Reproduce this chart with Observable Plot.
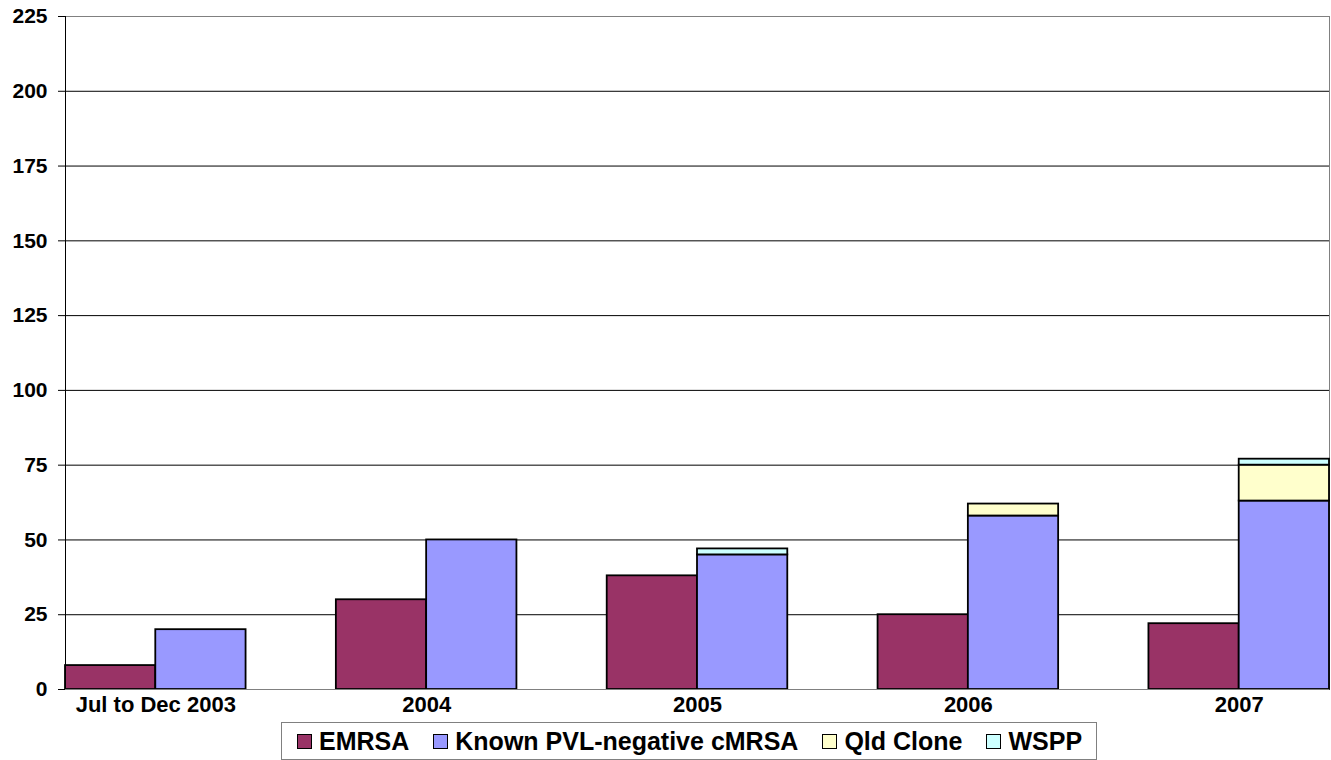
<!DOCTYPE html>
<html>
<head>
<meta charset="utf-8">
<script src="https://cdn.jsdelivr.net/npm/d3@7"></script>
<script src="https://cdn.jsdelivr.net/npm/@observablehq/plot@0.6"></script>
<style>
  html, body { margin: 0; padding: 0; background: #fff; }
  body { width: 1331px; height: 760px; font-family: "Liberation Sans", Arial, sans-serif; position: relative; overflow: hidden; }
  #legend {
    position: absolute; left: 281px; top: 722px; height: 36px;
    padding-left: 15px; padding-right: 14px;
    border: 1px solid #808080;
    display: inline-flex; align-items: center; gap: 24px;
    font-weight: bold; font-size: 25px; color: #000; white-space: nowrap;
  }
  .item { display: flex; align-items: center; }
  .sw { width: 13px; height: 13px; border: 1px solid #000; margin-right: 7px; }
</style>
</head>
<body>
<div id="chart"></div>
<div id="legend"></div>
<script>
const categories = ["Jul to Dec 2003", "2004", "2005", "2006", "2007"];
const series = ["EMRSA", "Known PVL-negative cMRSA", "Qld Clone", "WSPP"];
const colors = ["#993366", "#9999FF", "#FFFFCC", "#CCFFFF"];
const emrsa  = [8, 30, 38, 25, 22];
const pvlNeg = [20, 50, 45, 58, 63];
const qld    = [0, 0, 0, 4, 12];
const wspp   = [0, 0, 2, 0, 2];
const yTicks = [0, 25, 50, 75, 100, 125, 150, 175, 200, 225];

// Each category occupies three units: EMRSA column, cMRSA stack column, gap
const rows = [];
categories.forEach((c, i) => {
  rows.push({cat: c, x1: 3 * i, x2: 3 * i + 1, series: series[0], value: emrsa[i]});
  rows.push({cat: c, x1: 3 * i + 1, x2: 3 * i + 2, series: series[1], value: pvlNeg[i]});
  rows.push({cat: c, x1: 3 * i + 1, x2: 3 * i + 2, series: series[2], value: qld[i]});
  rows.push({cat: c, x1: 3 * i + 1, x2: 3 * i + 2, series: series[3], value: wspp[i]});
});
const data = rows.filter(d => d.value > 0);

const chart = Plot.plot({
  width: 1331,
  height: 718,
  marginLeft: 65,
  marginRight: 2,
  marginTop: 16,
  marginBottom: 29,
  style: {fontFamily: "'Liberation Sans', Arial, sans-serif", fontWeight: "bold", fontSize: "21px", color: "#000", background: "#fff"},
  x: {type: "linear", domain: [0, 14], axis: null},
  y: {domain: [0, 225], axis: null},
  color: {domain: series, range: colors},
  marks: [
    Plot.ruleY(yTicks.filter(t => t > 0 && t < 225), {stroke: "#000", strokeWidth: 1}),
    Plot.ruleY([225], {stroke: "#808080", strokeWidth: 1}),
    Plot.ruleX([14], {stroke: "#808080", strokeWidth: 1}),
    Plot.rectY(data, Plot.stackY({x1: "x1", x2: "x2", y: "value", fill: "series", stroke: "#000", strokeWidth: 1.8})),
    Plot.ruleY([0], {stroke: "#808080", strokeWidth: 1}),
    Plot.ruleX([0], {stroke: "#000", strokeWidth: 1}),
    Plot.axisY({ticks: yTicks, label: null, tickSize: 7, tickPadding: 11, tickFormat: d => String(d), fontSize: 21, fontWeight: "bold"}),
    Plot.axisX({ticks: categories.map((c, i) => 3 * i + 1), label: null, tickSize: 0, tickPadding: 7, tickFormat: d => categories[(d - 1) / 3], fontSize: 22, fontWeight: "bold"})
  ]
});
document.getElementById("chart").appendChild(chart);

const legend = document.getElementById("legend");
series.forEach((s, i) => {
  const item = document.createElement("div");
  item.className = "item";
  const sw = document.createElement("div");
  sw.className = "sw";
  sw.style.background = colors[i];
  const t = document.createElement("span");
  t.textContent = s;
  item.appendChild(sw);
  item.appendChild(t);
  legend.appendChild(item);
});
</script>
</body>
</html>
